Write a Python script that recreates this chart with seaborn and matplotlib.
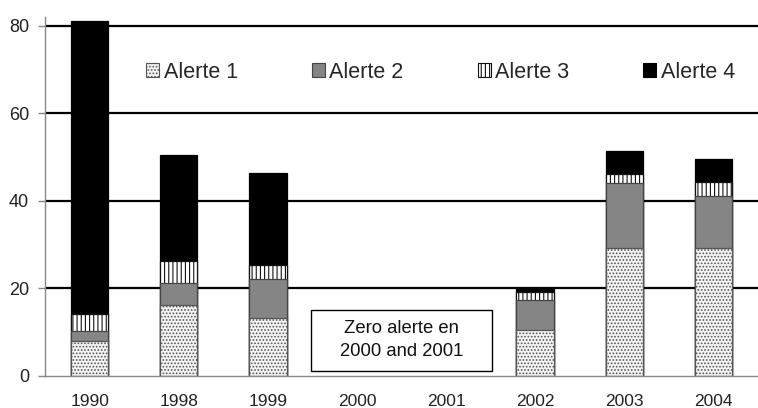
import matplotlib
matplotlib.use("Agg")
import matplotlib.pyplot as plt
from matplotlib.patches import Patch, Rectangle
import numpy as np
import pandas as pd
import seaborn as sns

years = ["1990", "1998", "1999", "2000", "2001", "2002", "2003", "2004"]
alerte1 = [8.0, 16.2, 13.2, 0, 0, 10.4, 29.2, 29.2]
alerte2 = [2.3, 5.1, 8.9, 0, 0, 7.0, 14.9, 12.0]
alerte3 = [3.9, 5.0, 3.2, 0, 0, 1.7, 1.9, 3.0]
alerte4 = [66.8, 24.1, 21.0, 0, 0, 0.8, 5.4, 5.3]
series_names = ["Alerte 1", "Alerte 2", "Alerte 3", "Alerte 4"]
note_text = "Zero alerte en\n2000 and 2001"

sns.set_style("white")
plt.rcParams["font.family"] = ["Liberation Sans", "DejaVu Sans"]
plt.rcParams["hatch.linewidth"] = 0.8

styles = [
    dict(facecolor="#f4f4f4", edgecolor="#555555", hatch="....."),
    dict(facecolor="#858585", edgecolor="#444444", hatch=None),
    dict(facecolor="white", edgecolor="#111111", hatch="||||"),
    dict(facecolor="black", edgecolor="black", hatch=None),
]

df = pd.DataFrame({"year": years, "a1": alerte1, "a2": alerte2,
                   "a3": alerte3, "a4": alerte4})
cum = df[["a1", "a2", "a3", "a4"]].cumsum(axis=1)

fig = plt.figure(figsize=(7.58, 4.08), dpi=100)
ax = fig.add_axes([45 / 758, 32 / 408, 713 / 758, 359.2 / 408])

# stacked bars: draw cumulative totals from the top segment downwards
for col, st in zip(["a4", "a3", "a2", "a1"], styles[::-1]):
    sns.barplot(x=df["year"], y=cum[col], order=years, ax=ax, width=0.42,
                color=st["facecolor"], edgecolor=st["edgecolor"],
                hatch=st["hatch"], linewidth=0.9, saturation=1, zorder=2)

# empty years: no outline on the axis
for p in ax.patches:
    if p.get_height() == 0:
        p.set_visible(False)

ax.set_xlim(-0.5, 7.42)
ax.set_ylim(0, 82)
ax.set_xlabel("")
ax.set_ylabel("")

ax.set_yticks([0, 20, 40, 60, 80])
for v in [20, 40, 60, 80]:
    ax.axhline(v, color="black", lw=1.6, zorder=1)

ax.set_xticks(range(len(years)))
ax.set_xticklabels(years)
ax.set_xticks(np.arange(-0.5, 8, 1), minor=True)
ax.tick_params(axis="x", which="major", length=0, pad=13, labelsize=12.5, colors="#222222")
ax.tick_params(axis="x", which="minor", length=5, width=1, color="#888888", direction="out")
ax.tick_params(axis="y", length=5, width=1, color="#888888", pad=6.5, labelsize=13,
               labelcolor="#222222", left=True)

for s in ["top", "right"]:
    ax.spines[s].set_visible(False)
for s in ["left", "bottom"]:
    ax.spines[s].set_color("#888888")
    ax.spines[s].set_linewidth(1)
    ax.spines[s].set_zorder(2.5)

handles = [Patch(facecolor=st["facecolor"], edgecolor=st["edgecolor"],
                 hatch=st["hatch"], linewidth=0.8) for st in styles]
ax.legend(handles, series_names, ncol=4, frameon=False, fontsize=15.5,
          loc="center", bbox_to_anchor=(0.555, 0.846), handlelength=0.6,
          handleheight=0.6, handletextpad=0.2, columnspacing=3.45)

box = Rectangle((2.483, 1.1), 2.034, 14.0, facecolor="white", edgecolor="black",
                lw=1, zorder=4)
ax.add_patch(box)
ax.text(3.5, 8.2, note_text, ha="center", va="center", fontsize=13.3,
        linespacing=1.45, zorder=5, color="#111111")

fig.savefig("out.png", dpi=100)
